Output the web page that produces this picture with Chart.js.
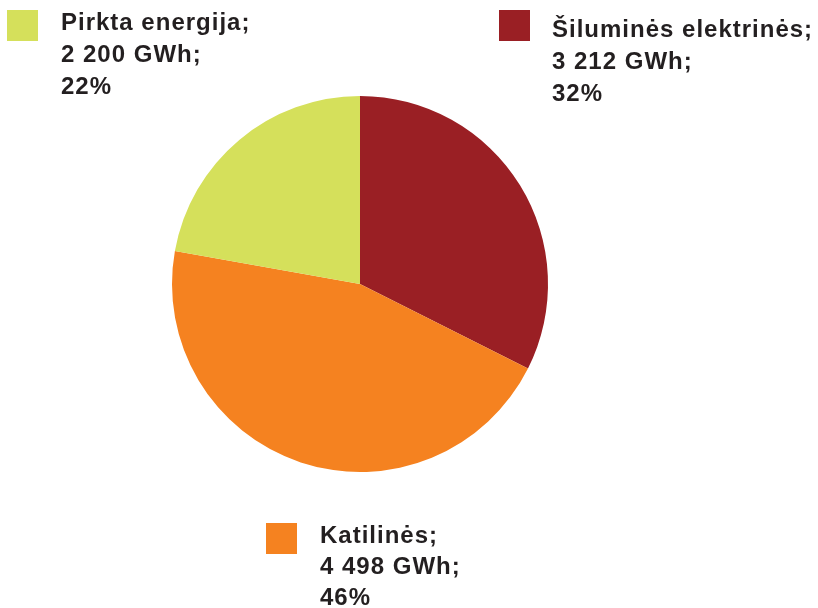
<!DOCTYPE html>
<html>
<head>
<meta charset="utf-8">
<script src="https://cdn.jsdelivr.net/npm/chart.js@4"></script>
<style>
  html, body { margin: 0; padding: 0; background: #fff; }
  #chart { display: block; }
</style>
</head>
<body>
<canvas id="chart" width="818" height="608"></canvas>
<script>
// data, in drawing order (clockwise from 12 o'clock)
const categories = ['Šiluminės elektrinės', 'Katilinės', 'Pirkta energija'];
const valuesGWh = [3212, 4498, 2200];
const percents = [32, 46, 22];
const colors = ['#9a1f24', '#f58220', '#d5e05b'];

// where each label block sits: square corner and first text baseline
const labelPos = [
  { sx: 499, sy: 10, tx: 552, ty: 37, lh: 32 },
  { sx: 266, sy: 523, tx: 320, ty: 543, lh: 31 },
  { sx: 7, sy: 10, tx: 61, ty: 30, lh: 32 }
];

function fmt(n) {
  return String(n).replace(/\B(?=(\d{3})+(?!\d))/g, ' ');
}

const labelPlugin = {
  id: 'sliceLabels',
  afterDraw(chart) {
    const ctx = chart.ctx;
    ctx.save();
    ctx.font = 'bold 24px "Liberation Sans", Arial, sans-serif';
    ctx.letterSpacing = '1px';
    ctx.textBaseline = 'alphabetic';
    ctx.textAlign = 'left';
    categories.forEach((name, i) => {
      const p = labelPos[i];
      ctx.fillStyle = colors[i];
      ctx.fillRect(p.sx, p.sy, 31, 31);
      ctx.fillStyle = '#231f20';
      const lines = [name + ';', fmt(valuesGWh[i]) + ' GWh;', percents[i] + '%'];
      lines.forEach((t, k) => ctx.fillText(t, p.tx, p.ty + k * p.lh));
    });
    ctx.restore();
  }
};

new Chart(document.getElementById('chart'), {
  type: 'pie',
  data: {
    labels: categories,
    datasets: [{
      data: valuesGWh,
      backgroundColor: colors,
      borderWidth: 0
    }]
  },
  options: {
    responsive: false,
    animation: false,
    layout: { padding: { left: 172, right: 270, top: 96, bottom: 136 } },
    plugins: {
      legend: { display: false },
      tooltip: { enabled: false }
    }
  },
  plugins: [labelPlugin]
});
</script>
</body>
</html>
